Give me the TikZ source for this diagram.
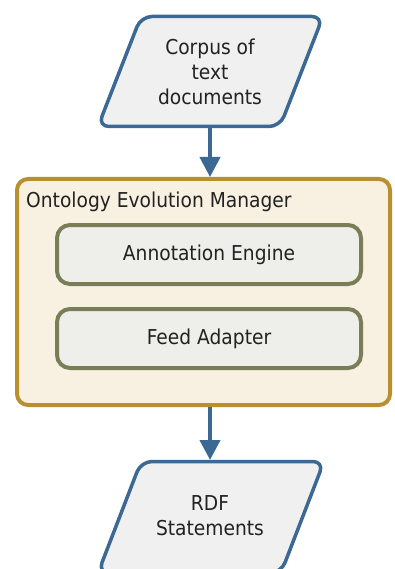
\documentclass[tikz,border=0pt]{standalone}
\usepackage{fontspec}
\setmainfont{DejaVu Sans}[FakeStretch=0.91]
\usetikzlibrary{arrows.meta}
\definecolor{ioblue}{HTML}{3B6993}
\definecolor{iofill}{HTML}{F0F0F0}
\definecolor{mgrfill}{HTML}{F8F0E1}
\definecolor{mgrline}{HTML}{B8902F}
\definecolor{subfill}{HTML}{EEEFEA}
\definecolor{subline}{HTML}{7A7E56}
\definecolor{txt}{HTML}{222222}
\tikzset{
  x=1pt, y=-1pt,
  lbl/.style={inner sep=0pt, align=center, text=txt, font=\fontsize{20.5}{25}\selectfont},
  iobox/.style={draw=ioblue, fill=iofill, line width=3.5pt, rounded corners=11pt, line join=round},
  mgrbox/.style={draw=mgrline, fill=mgrfill, line width=4pt, rounded corners=11pt},
  subbox/.style={draw=subline, fill=subfill, line width=4pt, rounded corners=13pt, minimum width=304pt, minimum height=59pt, inner sep=0pt, text=txt, font=\fontsize{20.5}{25}\selectfont},
  flow/.style={draw=ioblue, line width=4pt, -{Triangle[length=20pt,width=20pt]}}
}
\begin{document}
\begin{tikzpicture}
\useasboundingbox (0,0) rectangle (394,569);
\clip (0,0) rectangle (394,569);
% top input parallelogram
\path[iobox] (141,16.5) -- (323,16.5) -- (280,126.5) -- (98,126.5) -- cycle;
\node[lbl] (corpus) at (210,71.5) {Corpus of\\text\\documents};
\coordinate (corpusbot) at (210,128);
% manager container
\path[mgrbox] (17,179) rectangle (390,405);
\node[lbl, anchor=west] (mgrtitle) at (26,202) {Ontology Evolution Manager};
\coordinate (mgrtop) at (210,177);
\coordinate (mgrbot) at (210,407);
% sub components
\node[subbox] (annot) at (209,254.5) {Annotation Engine};
\node[subbox] (feed) at (209,338.5) {Feed Adapter};
% bottom output parallelogram
\path[iobox] (141,461.5) -- (324,461.5) -- (281,573) -- (98,573) -- cycle;
\node[lbl] (rdf) at (210,515.5) {RDF\\Statements};
\coordinate (rdftop) at (210,460);
% connectors
\draw[flow] (corpusbot) -- (mgrtop);
\draw[flow] (mgrbot) -- (rdftop);
\end{tikzpicture}
\end{document}
